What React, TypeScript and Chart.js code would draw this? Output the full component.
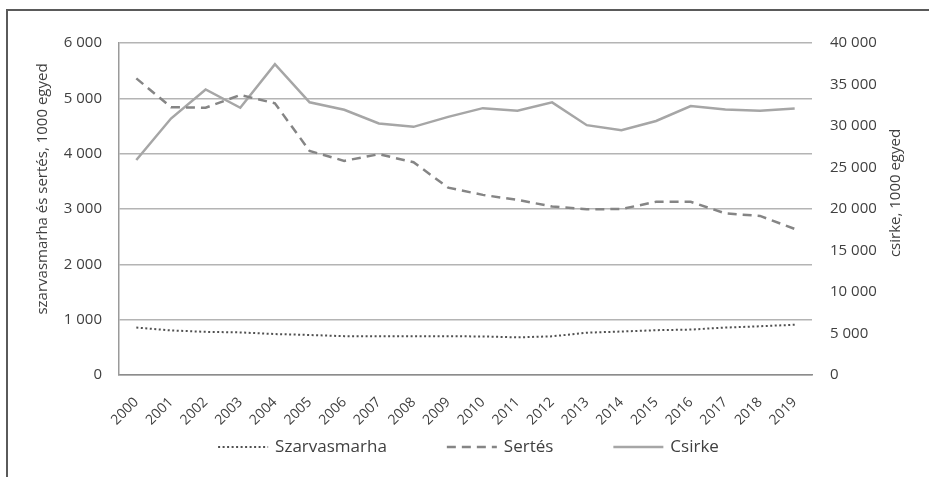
import React, { useEffect, useRef } from 'react';
import { Chart, registerables } from 'chart.js';

Chart.register(...registerables);

const years = ['2000', '2001', '2002', '2003', '2004', '2005', '2006', '2007', '2008', '2009', '2010', '2011', '2012', '2013', '2014', '2015', '2016', '2017', '2018', '2019'];
const szarvasmarha = [857, 805, 780, 770, 740, 723, 702, 701, 701, 700, 697, 680, 699, 765, 786, 810, 821, 857, 881, 908];
const sertes = [5360, 4840, 4830, 5060, 4910, 4050, 3870, 3990, 3845, 3385, 3255, 3165, 3045, 2995, 3000, 3130, 3130, 2920, 2875, 2640];
const csirke = [25900, 30900, 34400, 32200, 37450, 32850, 31950, 30300, 29900, 31100, 32150, 31850, 32850, 30100, 29500, 30600, 32400, 32000, 31850, 32100];
const leftTicks = ['0', '1 000', '2 000', '3 000', '4 000', '5 000', '6 000'];
const rightTicks = ['0', '5 000', '10 000', '15 000', '20 000', '25 000', '30 000', '35 000', '40 000'];
const seriesNames = ['Szarvasmarha', 'Sertés', 'Csirke'];
const leftTitle = 'szarvasmarha és sertés, 1000 egyed';
const rightTitle = 'csirke, 1000 egyed';

const FONT = '"Open Sans", "DejaVu Sans", sans-serif';
const TEXT = '#404040';

const titlePlugin = {
  id: 'axisTitles',
  afterDraw(chart: any) {
    const { ctx, chartArea } = chart;
    const cy = (chartArea.top + chartArea.bottom) / 2 - 20;
    ctx.save();
    ctx.font = `15px ${FONT}`;
    ctx.fillStyle = TEXT;
    ctx.textAlign = 'center';
    ctx.textBaseline = 'middle';
    ctx.translate(chartArea.left - 76, cy);
    ctx.rotate(-Math.PI / 2);
    ctx.fillText(leftTitle, 0, 0);
    ctx.restore();
    ctx.save();
    ctx.font = `15px ${FONT}`;
    ctx.fillStyle = TEXT;
    ctx.textAlign = 'center';
    ctx.textBaseline = 'middle';
    ctx.translate(chartArea.right + 84, cy + 4);
    ctx.rotate(-Math.PI / 2);
    ctx.fillText(rightTitle, 0, 0);
    ctx.restore();
  },
};

const legendPlugin = {
  id: 'lineLegend',
  afterDraw(chart: any) {
    const { ctx, chartArea } = chart;
    const lineLen = 50;
    const textGap = 7;
    const itemGap = 60;
    ctx.save();
    ctx.font = `17px ${FONT}`;
    const items = chart.data.datasets.map((ds: any) => ({ ds, w: ctx.measureText(ds.label).width }));
    const total = items.reduce((s: number, it: any) => s + lineLen + textGap + it.w, 0) + itemGap * (items.length - 1);
    let x = (chartArea.left + chartArea.right) / 2 + 3 - total / 2;
    const y = chartArea.bottom + 72;
    for (const it of items) {
      const ds = it.ds;
      ctx.beginPath();
      ctx.setLineDash(ds.borderDash || []);
      ctx.lineWidth = ds.borderWidth;
      ctx.strokeStyle = ds.borderColor;
      ctx.moveTo(x, y);
      ctx.lineTo(x + lineLen, y);
      ctx.stroke();
      ctx.setLineDash([]);
      ctx.fillStyle = TEXT;
      ctx.textAlign = 'left';
      ctx.textBaseline = 'middle';
      ctx.fillText(ds.label, x + lineLen + textGap, y);
      x += lineLen + textGap + it.w + itemGap;
    }
    ctx.restore();
  },
};

export default function App() {
  const ref = useRef<HTMLCanvasElement>(null);

  useEffect(() => {
    if (!ref.current) return;
    const chart = new Chart(ref.current, {
      type: 'line',
      data: {
        labels: years,
        datasets: [
          {
            label: seriesNames[0],
            data: szarvasmarha,
            yAxisID: 'y',
            borderColor: '#505050',
            backgroundColor: '#505050',
            borderWidth: 2,
            borderDash: [2, 2.5],
            pointRadius: 0,
            tension: 0,
          },
          {
            label: seriesNames[1],
            data: sertes,
            yAxisID: 'y',
            borderColor: '#858585',
            backgroundColor: '#858585',
            borderWidth: 2.5,
            borderDash: [9, 6],
            pointRadius: 0,
            tension: 0,
          },
          {
            label: seriesNames[2],
            data: csirke,
            yAxisID: 'y1',
            borderColor: '#a6a6a6',
            backgroundColor: '#a6a6a6',
            borderWidth: 2.5,
            pointRadius: 0,
            tension: 0,
          },
        ],
      },
      options: {
        responsive: false,
        animation: false,
        devicePixelRatio: 1,
        layout: { padding: { left: 30, right: 20, top: 43, bottom: 0 } },
        plugins: {
          legend: { display: false },
          tooltip: { enabled: false },
        },
        scales: {
          x: {
            offset: true,
            grid: { display: false, drawTicks: false },
            border: { display: true, color: '#8c8c8c', width: 1.5 },
            ticks: {
              autoSkip: false,
              minRotation: 45,
              maxRotation: 45,
              padding: 19,
              color: TEXT,
              font: { family: FONT, size: 14 },
            },
            afterFit(scale: any) {
              scale.height = 102;
            },
          },
          y: {
            position: 'left',
            min: 0,
            max: 6000,
            ticks: {
              stepSize: 1000,
              padding: 17,
              color: TEXT,
              font: { family: FONT, size: 15 },
              callback: (_v: any, i: number) => leftTicks[i],
            },
            grid: { color: '#b4b4b4', lineWidth: 1.5, drawTicks: false },
            border: { display: true, color: '#9a9a9a', width: 1.5 },
            afterFit(scale: any) {
              scale.width = 89;
            },
          },
          y1: {
            position: 'right',
            min: 0,
            max: 40000,
            ticks: {
              stepSize: 5000,
              padding: 18,
              color: TEXT,
              font: { family: FONT, size: 15 },
              callback: (_v: any, i: number) => rightTicks[i],
            },
            grid: { display: false, drawTicks: false },
            border: { display: false },
            afterFit(scale: any) {
              scale.width = 97;
            },
          },
        },
      },
      plugins: [titlePlugin, legendPlugin],
    });
    return () => chart.destroy();
  }, []);

  return (
    <div style={{ position: 'absolute', left: 0, top: 0, width: 929, height: 477, background: '#fff' }}>
      <canvas ref={ref} width={929} height={477} style={{ position: 'absolute', left: 0, top: 0 }} />
      <div
        style={{
          position: 'absolute',
          left: 6,
          top: 9,
          width: 923,
          height: 468,
          borderTop: '2px solid #5a5a5a',
          borderLeft: '2px solid #5a5a5a',
          boxSizing: 'border-box',
          pointerEvents: 'none',
        }}
      />
    </div>
  );
}
